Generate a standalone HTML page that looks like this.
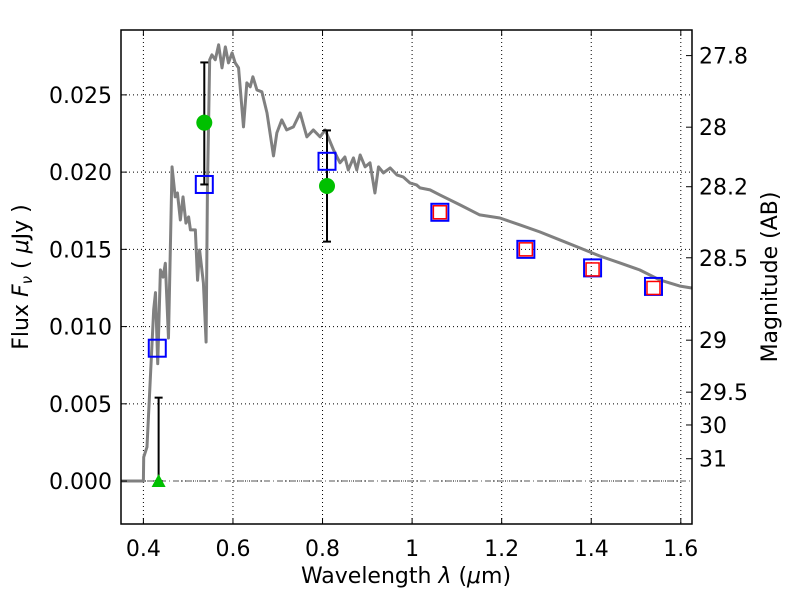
<!DOCTYPE html>
<html><head><meta charset="utf-8">
<style>
html,body{margin:0;padding:0;background:#fff;}
svg{display:block;font-family:"DejaVu Sans","Liberation Sans",sans-serif;}
</style></head>
<body>
<svg id="chart" width="800" height="600" viewBox="0 0 800 600" style="position:absolute;left:0;top:0;"></svg>
<script>
const xTicks=[0.4,0.6,0.8,1.0,1.2,1.4,1.6];
const xTickLabels=["0.4","0.6","0.8","1","1.2","1.4","1.6"];
const yTicks=[0,0.005,0.010,0.015,0.020,0.025];
const yTickLabels=["0.000","0.005","0.010","0.015","0.020","0.025"];
const magTicks=[27.8,28,28.2,28.5,29,29.5,30,31];
const magTickLabels=["27.8","28","28.2","28.5","29","29.5","30","31"];
const specWl=[0.35,0.4,0.4007,0.408,0.423,0.427,0.432,0.438,0.444,0.449,0.456,0.464,0.471,0.476,0.4825,0.4885,0.495,0.501,0.505,0.516,0.521,0.5255,0.534,0.540,0.543,0.548,0.553,0.5605,0.568,0.5755,0.583,0.590,0.598,0.605,0.6125,0.6235,0.631,0.6385,0.6445,0.6535,0.6645,0.676,0.6905,0.698,0.709,0.720,0.735,0.750,0.765,0.7795,0.7945,0.806,0.8245,0.839,0.850,0.8575,0.869,0.8765,0.884,0.895,0.906,0.917,0.925,0.936,0.951,0.966,0.980,0.995,1.010,1.0175,1.040,1.062,1.107,1.151,1.196,1.241,1.285,1.330,1.375,1.419,1.464,1.508,1.553,1.597,1.624];
const specFlux=[0,0,0.00155,0.0022,0.0111,0.0122,0.0076,0.01367,0.0132,0.0141,0.00926,0.02034,0.0184,0.01865,0.0169,0.0184,0.0167,0.0171,0.01626,0.01626,0.0130,0.01496,0.01282,0.0090,0.01885,0.02727,0.02759,0.02727,0.02824,0.02675,0.02811,0.02707,0.02772,0.02707,0.02675,0.02293,0.02578,0.02552,0.02617,0.02532,0.0252,0.02383,0.02105,0.02254,0.02338,0.02273,0.02293,0.02383,0.02228,0.02273,0.02228,0.02273,0.02144,0.0206,0.02098,0.02014,0.02092,0.02014,0.02111,0.02034,0.0206,0.01865,0.02034,0.01995,0.02027,0.01982,0.01969,0.0193,0.01917,0.01898,0.01885,0.01852,0.01788,0.01723,0.01703,0.01658,0.01613,0.01561,0.01509,0.01457,0.01412,0.01367,0.01302,0.01263,0.0125];
const modelWl=[0.431,0.536,0.810,1.062,1.254,1.403,1.539];
const modelFlux=[0.0086,0.0192,0.0207,0.0174,0.0150,0.0138,0.0126];
const irWl=[1.062,1.254,1.403,1.539];
const irFlux=[0.0174,0.0150,0.0137,0.0125];
const obsWl=[0.536,0.810];
const obsFlux=[0.0232,0.0191];
const obsErrLo=[0.0192,0.0155];
const obsErrHi=[0.0271,0.0227];
const limWl=[0.434];
const limFlux=[0.0];
const limHi=[0.0054];

const L=121,R=692,T=30,B=524;
const xmin=0.35,xmax=1.625,ymin=-0.00278,ymax=0.0292;
const X=v=>L+(v-xmin)/(xmax-xmin)*(R-L);
const Y=v=>B-(v-ymin)/(ymax-ymin)*(B-T);
const magY=m=>Y(Math.pow(10,(23.9-m)/2.5));
const svg=document.getElementById('chart');
const NS='http://www.w3.org/2000/svg';
function mk(tag,attrs,parent){const e=document.createElementNS(NS,tag);for(const k in attrs)e.setAttribute(k,attrs[k]);(parent||svg).appendChild(e);return e;}

xTicks.forEach((t,i)=>{
 const g=mk('line',{x1:X(t),x2:X(t),y1:T,y2:B,stroke:'#000','stroke-width':1,'stroke-dasharray':'1,3'});
 
 
});
yTicks.forEach(t=>{
 const g=mk('line',{x1:L,x2:R,y1:Y(t),y2:Y(t),stroke:'#000','stroke-width':1,'stroke-dasharray':'1,3'});
 
 
});
const z=mk('line',{x1:L,x2:R,y1:Y(0),y2:Y(0),stroke:'#555','stroke-width':1,'stroke-dasharray':'6,3,1,3'});



const sp=mk('polyline',{points:specWl.map((w,i)=>X(w)+','+Y(specFlux[i])).join(' '),fill:'none',stroke:'#808080','stroke-width':3,'stroke-linejoin':'round'});



obsWl.forEach((w,i)=>{
 const x=X(w);
 const g=mk('g',{stroke:'#000','stroke-width':2});
 
 
 mk('line',{x1:x,x2:x,y1:Y(obsErrLo[i]),y2:Y(obsErrHi[i])},g);
 mk('line',{x1:x-4,x2:x+4,y1:Y(obsErrLo[i]),y2:Y(obsErrLo[i])},g);
 mk('line',{x1:x-4,x2:x+4,y1:Y(obsErrHi[i]),y2:Y(obsErrHi[i])},g);
});
limWl.forEach((w,i)=>{
 const x=X(w);
 const g=mk('g',{stroke:'#000','stroke-width':2});
 
 
 mk('line',{x1:x,x2:x,y1:Y(limFlux[i]),y2:Y(limHi[i])},g);
 mk('line',{x1:x-4,x2:x+4,y1:Y(limHi[i]),y2:Y(limHi[i])},g);
 mk('line',{x1:x-4,x2:x+4,y1:Y(limFlux[i]),y2:Y(limFlux[i])},g);
});
modelWl.forEach((w,i)=>{
 const s=mk('rect',{x:X(w)-8.5,y:Y(modelFlux[i])-8.5,width:17,height:17,fill:'none',stroke:'#0000ff','stroke-width':2});
 
 
});
irWl.forEach((w,i)=>{
 const s=mk('rect',{x:X(w)-6.5,y:Y(irFlux[i])-6.5,width:13,height:13,fill:'none',stroke:'#ff0000','stroke-width':1.5});
 
 
});
obsWl.forEach((w,i)=>{
 const c=mk('circle',{cx:X(w),cy:Y(obsFlux[i]),r:8,fill:'#00c000'});
 
 
});
limWl.forEach((w,i)=>{
 const x=X(w),y=Y(limFlux[i]);
 const t=mk('polygon',{points:`${x-7},${y+6} ${x+7},${y+6} ${x},${y-7}`,fill:'#00c000'});
 
 
});

const f=mk('rect',{x:L,y:T,width:R-L,height:B-T,fill:'none',stroke:'#000','stroke-width':1.5});



xTicks.forEach((t,i)=>{
 const x=X(t);
 mk('line',{x1:x,x2:x,y1:B,y2:B-6,stroke:'#000'});
 mk('line',{x1:x,x2:x,y1:T,y2:T+6,stroke:'#000'});
 const tx=mk('text',{x:x,y:B+32,'text-anchor':'middle','font-size':22});
 tx.textContent=xTickLabels[i];
 
 
});
yTicks.forEach((t,i)=>{
 const y=Y(t);
 mk('line',{x1:L,x2:L+6,y1:y,y2:y,stroke:'#000'});
 const tx=mk('text',{x:L-9,y:y+8,'text-anchor':'end','font-size':22});
 tx.textContent=yTickLabels[i];
 
 
});
magTicks.forEach((m,i)=>{
 const y=magY(m);
 mk('line',{x1:R,x2:R-6,y1:y,y2:y,stroke:'#000'});
 const tx=mk('text',{x:R+7,y:y+8,'text-anchor':'start','font-size':22});
 tx.textContent=magTickLabels[i];
 
 
});
</script>
<svg width="800" height="600" style="position:absolute;left:0;top:0;font-family:'DejaVu Sans','Liberation Sans',sans-serif;">
<text x="406" y="583" text-anchor="middle" font-size="22">Wavelength  <tspan font-style="italic">λ</tspan> (<tspan font-style="italic">μ</tspan>m)</text>
<text transform="translate(28,277) rotate(-90)" text-anchor="middle" font-size="22">Flux  <tspan font-style="italic">F</tspan><tspan font-style="italic" font-size="15" dy="4">ν</tspan><tspan dy="-4">  ( </tspan><tspan font-style="italic">μ</tspan>Jy )</text>
<text transform="translate(777,277) rotate(-90)" text-anchor="middle" font-size="22">Magnitude (AB)</text>
</svg>
</body></html>
